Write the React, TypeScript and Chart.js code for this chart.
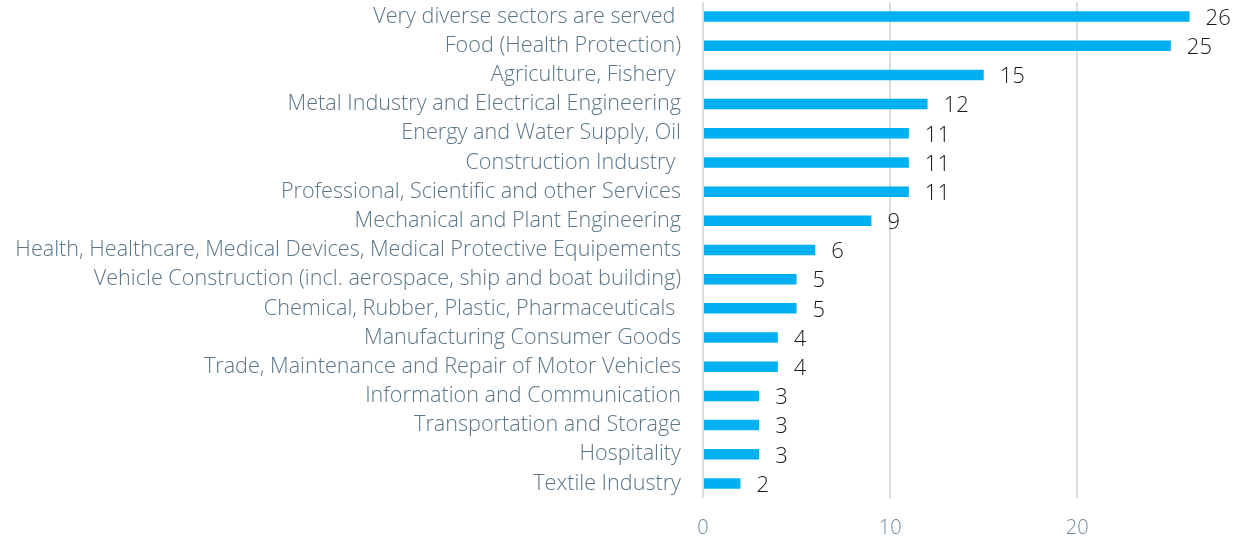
import React, { useEffect, useRef } from "react";
import { Chart, registerables } from "chart.js";

Chart.register(...registerables);

const categories = [
  "Very diverse sectors are served ",
  "Food (Health Protection)",
  "Agriculture, Fishery ",
  "Metal Industry and Electrical Engineering",
  "Energy and Water Supply, Oil",
  "Construction Industry ",
  "Professional, Scientific and other Services",
  "Mechanical and Plant Engineering",
  "Health, Healthcare, Medical Devices, Medical Protective Equipements",
  "Vehicle Construction (incl. aerospace, ship and boat building)",
  "Chemical, Rubber, Plastic, Pharmaceuticals ",
  "Manufacturing Consumer Goods",
  "Trade, Maintenance and Repair of Motor Vehicles",
  "Information and Communication",
  "Transportation and Storage",
  "Hospitality",
  "Textile Industry",
];

const values = [26, 25, 15, 12, 11, 11, 11, 9, 6, 5, 5, 4, 4, 3, 3, 3, 2];

const xTicks = [0, 10, 20];

const FONT = "'Open Sans'";

const valueLabels = {
  id: "valueLabels",
  afterDatasetsDraw(chart: any) {
    const ctx = chart.ctx;
    const meta = chart.getDatasetMeta(0);
    ctx.save();
    ctx.font = `300 22px ${FONT}`;
    ctx.fillStyle = "#1a1a1a";
    ctx.textAlign = "left";
    ctx.textBaseline = "middle";
    meta.data.forEach((bar: any, i: number) => {
      ctx.fillText(String(values[i]), bar.x + 16, bar.y + 2);
    });
    ctx.restore();
  },
};

export default function App() {
  const ref = useRef<HTMLCanvasElement | null>(null);
  useEffect(() => {
    if (!ref.current) return;
    const chart = new Chart(ref.current, {
      type: "bar",
      data: {
        labels: categories,
        datasets: [
          {
            data: values,
            backgroundColor: "#00b0f0",
            borderWidth: 0,
            barPercentage: 0.36,
            categoryPercentage: 1,
          },
        ],
      },
      options: {
        indexAxis: "y",
        animation: false,
        responsive: false,
        maintainAspectRatio: false,
        layout: { padding: { top: 2, right: 7, left: 0, bottom: 0 } },
        plugins: {
          legend: { display: false },
          tooltip: { enabled: false },
        },
        scales: {
          x: {
            min: 0,
            max: 28,
            afterBuildTicks(axis: any) {
              axis.ticks = xTicks.map((v) => ({ value: v }));
            },
            afterFit(axis: any) {
              axis.height = 41;
              axis.paddingLeft = 0;
              axis.paddingRight = 0;
            },
            grid: { color: "#d9dee3", lineWidth: 2, drawTicks: false },
            border: { display: false },
            ticks: {
              color: "#6f8c9c",
              font: { family: FONT, size: 20, weight: 300 },
              padding: 18,
            },
          },
          y: {
            afterFit(axis: any) {
              axis.width = 703;
              axis.paddingTop = 0;
              axis.paddingBottom = 0;
            },
            grid: { display: false, drawTicks: false },
            border: { display: false },
            ticks: {
              color: "#5b7688",
              font: { family: FONT, size: 21.6, weight: 300 },
              padding: 22,
              autoSkip: false,
            },
          },
        },
      },
      plugins: [valueLabels],
    });
    return () => chart.destroy();
  }, []);
  return (
    <div style={{ position: "fixed", left: 0, top: 0, width: 1234, height: 539, background: "#fff" }}>
      <canvas ref={ref} width={1234} height={539} style={{ width: 1234, height: 539 }} />
    </div>
  );
}
